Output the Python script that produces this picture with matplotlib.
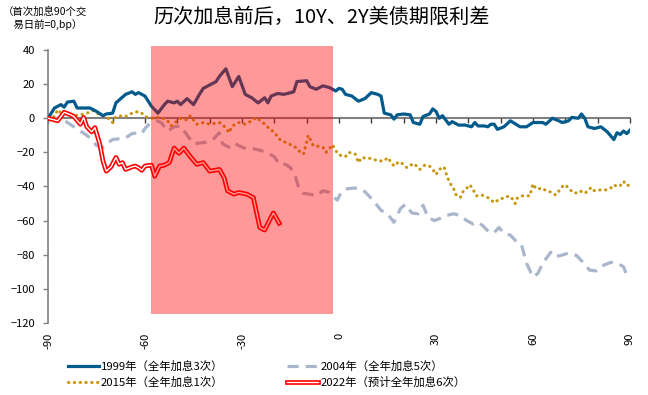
import matplotlib
matplotlib.use("Agg")
import matplotlib.pyplot as plt
import matplotlib.patheffects as pe
from matplotlib.patches import Rectangle
from matplotlib.transforms import blended_transform_factory

plt.rcParams['font.family'] = ['Noto Sans CJK SC', 'DejaVu Sans']

# 1999 (day, bp)
days_1999 = [-90, -88, -86, -85, -84, -82, -81, -77, -75, -73, -72, -70, -69, -66, -64, -63, -62, -60,
             -59, -58, -56, -54, -53, -51, -50, -49, -47, -45, -43, -42, -40, -38, -37, -35, -33, -31,
             -29, -27, -25, -23, -22, -21, -19, -17, -14, -13, -10, -9, -7, -5, -3, -1, 0, 1, 2, 4, 6,
             8, 10, 12, 13, 14, 16, 17, 18, 20, 22, 23, 25, 26, 28, 29, 30, 31, 32, 34, 35, 37, 39, 41,
             42, 43, 45, 46, 47, 48, 49, 51, 53, 56, 58, 60, 63, 64, 66, 68, 69, 71, 72, 74, 75, 76, 77,
             79, 81, 83, 85, 86, 87, 88, 89, 90]
vals_1999 = [0, 6, 8, 6.5, 9.5, 10, 6, 6, 4, 1.5, 2.5, 3, 9, 14, 15.5, 14, 15, 13,
             10, 7, 3, 8, 10, 9, 10, 8, 11.5, 8, 14.5, 17.5, 19.5, 21.5, 24.5, 29, 18.5, 24.5,
             14, 12, 9, 12, 9, 13, 14.5, 14, 15.5, 21.5, 22, 18.5, 17, 19, 18, 16, 17.5, 17, 14, 13, 10,
             11.5, 15, 14, 13, 3, 2, -0.5, 2, 2.5, 2, -2.5, -3.5, 1, 2.5, 5.5, 4, 0, 1.5, -3.5, -2, -4, -4, -5,
             -2.5, -4.5, -4.5, -5, -3.5, -3.5, -6.5, -5, -1.5, -5, -5, -2.5, -2.5, -3.5, 0, -1.5, -2.5, -1.5, 0.5, 0, 2.5, 0, -5,
             -6, -5, -8, -12.5, -8.5, -9.5, -7.5, -9, -7]

# 2004
days_2004 = [-90, -86, -84, -82, -80, -78, -76, -75, -73, -72, -70, -68, -66, -64, -62, -61, -60, -58.5,
             -56.5, -55, -53, -51, -49, -47.5, -45, -43, -41, -39, -37, -36, -34, -32.5, -30.5, -28.5,
             -26, -24, -22, -20, -18.5, -16.5, -15, -13.5, -12.5, -11, -9, -7, -5, -3, -1.5, -0.5, 0.5,
             2, 4, 6, 8, 10.5, 13, 15, 17, 19, 20.5, 22.5, 24.5, 26, 27.5, 29.5, 31.5, 33, 35.5, 37.5,
             39.5, 41.5, 43, 44.5, 46.5, 48, 49.5, 51, 53, 55, 56.5, 58, 60, 61.5, 63, 65.5, 66.5, 68.5,
             71, 73.5, 75.5, 77.5, 79.5, 82, 84, 86, 88, 89, 90]
vals_2004 = [0, 0, -2.5, -5, -7.5, -10, -13.5, -16, -17, -15, -12.5, -12, -11.5, -9, -8.5, -9, -6, -3,
             -1.5, -2.5, -7.5, -5, -4.5, -8.5, -15, -14.5, -14, -12.5, -8.5, -15, -17, -14.5, -16.5, -18,
             -18, -19, -20.5, -22.5, -27, -27, -29, -34, -40.5, -44, -44.5, -45.5, -42.5, -43.5, -46.5, -48, -44,
             -41.5, -41, -41, -43, -48, -54, -56, -61, -53, -50.5, -55.5, -56, -51, -58, -60, -58.5, -57, -56, -57,
             -60, -62, -61, -63, -67, -67, -64, -67.5, -68.5, -72.5, -74.5, -85, -93, -91, -85, -78.5, -81, -80.5,
             -79, -80.5, -84.5, -89, -89.5, -86, -84.5, -85, -87, -92, -93]

# 2015
days_2015 = [-90, -88, -87, -86, -84, -82, -80, -78, -76, -74, -72, -70, -69, -67, -66, -64, -62, -61,
             -60, -58, -57, -55, -53, -52, -50, -49, -47, -46, -44, -42, -40, -37, -35, -34, -33, -31,
             -29, -27, -25.5, -24, -22.5, -21.5, -20, -19, -18, -16, -15, -13, -12, -11, -10, -9.5, -9,
             -8, -6, -5, -4, -3, -2, -1, 0, 2, 3, 5, 6, 7, 8.5, 10, 12, 14, 15, 17, 18.5, 20, 21, 23, 24,
             25, 26.5, 28, 29, 30, 31, 32.5, 33.5, 34.5, 35.5, 36, 37.5, 38.5, 39.5, 40.5, 41.5, 42.5, 44,
             45, 46.5, 48, 50, 51, 52.5, 53.5, 54.5, 55, 56.5, 58, 59, 60, 61, 63, 64, 66, 67, 68.5, 69.5,
             70.5, 71.5, 73, 74.5, 76, 77, 78, 79, 81, 82.5, 84, 85, 86, 87, 88, 89, 90]
vals_2015 = [0, 1, 5, 3, 3, 1.5, 2, 3, 4.5, 2, 1, -2.5, 1, 1.5, 1, 3, 4, 3,
             1, 0, 0.5, 0.5, -1.5, -4.5, -1.5, 0, -1, 1.5, -3.5, -2.5, -3.5, -2.5, -5.5, -8.5, -4.5, -2.5,
             -3.5, -1.5, 0.5, -2, -4, -6.5, -8, -11, -13, -14.5, -15.5, -17.5, -20, -21, -14, -10, -12,
             -16, -16.5, -17, -20, -18, -15.5, -19, -21.5, -22.5, -20, -21, -26, -23, -23.5, -23.5, -25, -25, -23, -28, -25.5, -27, -29, -26.5, -28,
             -30, -27.5, -28, -30, -33, -30, -28.5, -34.5, -38.5, -41.5, -44.5, -46.5, -42.5, -41, -39, -42, -45.5, -45,
             -45.5, -47, -49.5, -47, -47, -45.5, -47, -50, -47, -45.5, -45.5, -45.5, -38.5, -41.5, -41, -42.5, -43.5, -45, -41.5, -39,
             -40, -42, -44, -42.5, -44, -42.5, -40.5, -42.5, -42, -42, -41, -39, -40, -39.5, -37, -39.5, -39]

# 2022
days_2022 = [-90, -88, -87, -85, -83, -82, -80, -79, -78, -76.5, -75.5, -74, -73, -72, -70.5, -69, -68,
             -67, -66, -64, -63, -62, -61, -60, -58, -57, -55.5, -54, -52.5, -51, -49.5, -48, -46, -44,
             -42, -40, -37, -35.5, -34.5, -32.5, -31, -28.5, -26.5, -24.5, -23, -21, -20.3, -18.5]
vals_2022 = [0, -1, -1.5, 3.5, 2, 1, -3.5, 0.5, -5, -8, -5.5, -15, -25, -31, -28.5, -23, -27,
             -26, -30, -28.5, -28, -29, -30.5, -28, -27.5, -34, -28, -27.5, -26, -17.5, -20.5, -17.5, -22.5, -27,
             -26, -31, -30, -35, -42.5, -44.5, -43.5, -44.5, -46.5, -64, -65.5, -58, -55.5, -61.5]

labels = ['1999年（全年加息3次）', '2004年（全年加息5次）', '2015年（全年加息1次）', '2022年（预计全年加息6次）']
shade_start, shade_end = -58, -2
xtick_vals = [-90, -60, -30, 0, 30, 60, 90]

fig = plt.figure(figsize=(6.48, 3.95), dpi=100)
ax = fig.add_axes([0.0741, 0.1823, 0.8981, 0.6911])

l1, = ax.plot(days_1999, vals_1999, color='#005a8c', lw=2.3, label=labels[0], zorder=3)
l2, = ax.plot(days_2004, vals_2004, color='#aab6cb', lw=2.3, ls=(0, (3.5, 2.2)), label=labels[1], zorder=2)
l3, = ax.plot(days_2015, vals_2015, color='#c8960a', lw=2.2, ls=(0, (0.1, 1.8)),
              dash_capstyle='round', label=labels[2], zorder=2)
l4, = ax.plot(days_2022, vals_2022, color='white', lw=1.0, label=labels[3], zorder=4,
              path_effects=[pe.Stroke(linewidth=3.4, foreground='#ff0000'), pe.Normal()])

ax.add_patch(Rectangle((shade_start, -115), shade_end - shade_start, 157.5, facecolor='#ff0000',
                       alpha=0.4, lw=0, zorder=5, clip_on=False))

ax.set_xlim(-90, 90)
ax.set_ylim(-120, 40)
ax.set_yticks(range(-120, 41, 20))
ax.set_xticks(range(-90, 91, 10))
ax.tick_params(axis='x', labelbottom=False, direction='out', length=3.5, width=1, color='#404040')
ax.tick_params(axis='y', direction='out', length=3.5, width=1, color='#808080', pad=6, labelsize=8)

for s in ['top', 'right']:
    ax.spines[s].set_visible(False)
ax.spines['bottom'].set_position(('data', 0))
ax.spines['bottom'].set_color('#808080')
ax.spines['bottom'].set_linewidth(1.5)
ax.spines['bottom'].set_zorder(1)
ax.spines['left'].set_color('#808080')
ax.spines['left'].set_linewidth(1.2)

trans = blended_transform_factory(ax.transData, ax.transAxes)
for v in xtick_vals:
    ax.text(v, -0.035, str(v), transform=trans, rotation=90, ha='center', va='top', fontsize=8)

fig.text(0.496, 0.955, '历次加息前后，10Y、2Y美债期限利差', ha='center', va='center', fontsize=14.5)
fig.text(0.004, 0.985, '（首次加息90个交\n\u3000易日前=0,bp）', ha='left', va='top', fontsize=7.5, linespacing=1.3)

# legend fills column-wise: order so rows read 1999/2004, 2015/2022
fig.legend(handles=[l1, l3, l2, l4], labels=[labels[0], labels[2], labels[1], labels[3]], ncol=2,
           loc='upper left', bbox_to_anchor=(0.096, 0.102), frameon=False, fontsize=8.2,
           handlelength=2.7, handletextpad=0.2, columnspacing=5.6, borderpad=0, labelspacing=0.45)

fig.savefig('out.png', dpi=100)
